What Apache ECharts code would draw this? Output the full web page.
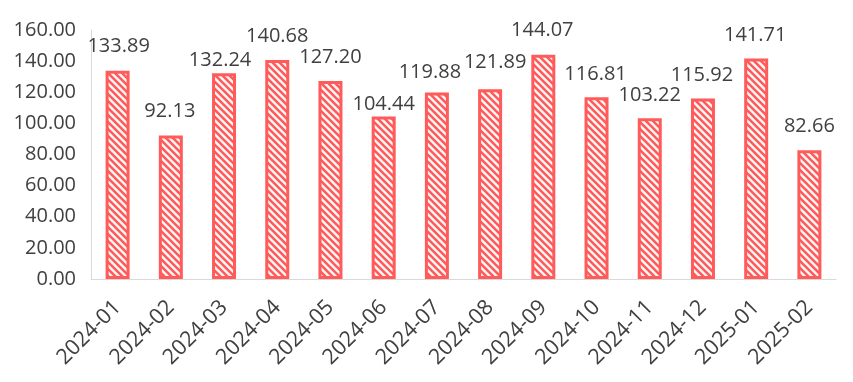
<!DOCTYPE html>
<html>
<head>
<meta charset="utf-8">
<script src="https://cdn.jsdelivr.net/npm/echarts@6/dist/echarts.min.js"></script>
<style>html,body{margin:0;padding:0;background:#fff;}#c{width:853px;height:382px;}</style>
</head>
<body>
<div id="c"></div>
<script>
const categories = ['2024-01','2024-02','2024-03','2024-04','2024-05','2024-06','2024-07','2024-08','2024-09','2024-10','2024-11','2024-12','2025-01','2025-02'];
const values = [133.89, 92.13, 132.24, 140.68, 127.20, 104.44, 119.88, 121.89, 144.07, 116.81, 103.22, 115.92, 141.71, 82.66];
const yTicks = [0, 20, 40, 60, 80, 100, 120, 140, 160];

// label nudges (style only, as placed in the reference)
const labelNudge = [[1,0],[-1,0],[-4,11],[0,0],[0,0],[0,12],[-7,4],[5,-3],[-1,0],[-1,1],[0,1],[-1,1],[-1,1],[0,0]];

const RED = '#FF5B5B';
function makePattern() {
  const s = 7;
  const cv = document.createElement('canvas');
  cv.width = s; cv.height = s;
  const g = cv.getContext('2d');
  g.fillStyle = '#FFF6F6';
  g.fillRect(0, 0, s, s);
  g.strokeStyle = RED;
  g.lineWidth = 2.6;
  g.beginPath();
  for (let k = -1; k <= 1; k++) {
    g.moveTo(k * s - 1, -1);
    g.lineTo(k * s + s + 1, s + 1);
  }
  g.stroke();
  return cv;
}

const chart = echarts.init(document.getElementById('c'), null, {renderer: 'canvas'});
const font = '"Open Sans", "Noto Sans", sans-serif';
const seriesData = values.map((v, i) => ({value: v, label: {offset: labelNudge[i]}}));
chart.setOption({
  animation: false,
  grid: {left: 91, right: 17, top: 30, bottom: 103, containLabel: false},
  xAxis: {
    type: 'category',
    data: categories,
    axisLine: {show: true, lineStyle: {color: '#D9D9D9', width: 1}},
    axisTick: {show: false},
    axisLabel: {rotate: 45, margin: 25, color: '#404040', fontSize: 21.5, fontFamily: font, interval: 0}
  },
  yAxis: {
    type: 'value',
    min: yTicks[0],
    max: yTicks[yTicks.length - 1],
    interval: 20,
    axisLine: {show: true, lineStyle: {color: '#D9D9D9', width: 1}},
    axisTick: {show: false},
    splitLine: {show: false},
    axisLabel: {color: '#404040', fontSize: 20, fontFamily: font, margin: 15,
      formatter: v => v.toFixed(2)}
  },
  series: [{
    type: 'bar',
    data: seriesData,
    barWidth: 24,
    itemStyle: {
      color: {image: makePattern(), repeat: 'repeat'},
      borderColor: RED,
      borderWidth: 3
    },
    label: {
      show: true,
      position: 'top',
      distance: 14,
      color: '#404040',
      fontSize: 20,
      fontFamily: font,
      formatter: p => p.value.toFixed(2)
    }
  }]
});
</script>
</body>
</html>
